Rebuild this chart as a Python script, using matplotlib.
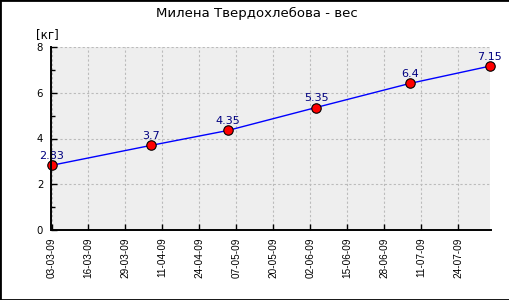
import matplotlib
matplotlib.use('Agg')
import matplotlib.pyplot as plt
import matplotlib.dates as mdates
import pandas as pd
from matplotlib.patches import Rectangle

# data
dates = ['2009-03-03', '2009-04-07', '2009-05-04', '2009-06-04', '2009-07-07', '2009-08-04']
weights = [2.83, 3.7, 4.35, 5.35, 6.4, 7.15]
title = 'Милена Твердохлебова - вес'
unit = '[кг]'

xs = pd.to_datetime(dates)
ticks = pd.date_range('2009-03-03', periods=12, freq='13D')

fig = plt.figure(figsize=(5.1, 3.0), dpi=100)
ax = fig.add_axes([51.5 / 510, 1 - 230.3 / 300, 439 / 510, 183.6 / 300])
ax.set_facecolor('#eeeeee')

ax.plot(xs, weights, color='#0000ff', lw=1, zorder=3)
ax.plot(xs, weights, ls='none', marker='o', ms=6.8, mfc='#ff0000', mec='black',
        mew=0.8, zorder=4, clip_on=False)
for x, w in zip(xs, weights):
    ax.annotate('%g' % w, (x, w), xytext=(0, 4.5), textcoords='offset points',
                ha='center', va='baseline', color='#000080', fontsize=8,
                family='DejaVu Sans', zorder=5, annotation_clip=False)

ax.set_xlim(pd.Timestamp('2009-03-03'), pd.Timestamp('2009-08-04') + pd.Timedelta(hours=8))
ax.set_ylim(0, 8)
ax.set_xticks(ticks)
ax.xaxis.set_major_formatter(mdates.DateFormatter('%d-%m-%y'))
ax.set_yticks([0, 2, 4, 6, 8])
ax.set_yticks([1, 3, 5, 7], minor=True)

for lab in ax.get_xticklabels():
    lab.set_rotation(90)
    lab.set_family('Liberation Sans')
    lab.set_fontsize(7.2)
for lab in ax.get_yticklabels():
    lab.set_family('DejaVu Sans')
    lab.set_fontsize(7.3)

ax.tick_params(axis='both', which='major', direction='in', length=4, width=1, color='black')
ax.tick_params(axis='y', which='minor', direction='in', length=3, width=1, color='black')
ax.tick_params(axis='x', pad=5)
ax.tick_params(axis='y', pad=6)

ax.grid(True, which='major', color='#bbbbbb', ls=(0, (2, 2)), lw=0.8)
ax.set_axisbelow(True)
for s in ['top', 'right']:
    ax.spines[s].set_visible(False)
for s in ['left', 'bottom']:
    ax.spines[s].set_linewidth(1.4)
    ax.spines[s].set_zorder(6)

fig.text(257 / 510, 1 - 13 / 300, title, ha='center', va='center', fontsize=9.5,
         family='DejaVu Sans')
fig.text(47 / 510, 1 - 34.5 / 300, unit, ha='center', va='center', fontsize=8.5,
         family='DejaVu Sans')

fig.patches.append(Rectangle((0, 0), 1, 1, transform=fig.transFigure, fill=False,
                             edgecolor='black', lw=2))

plt.savefig('out.png', dpi=100)
